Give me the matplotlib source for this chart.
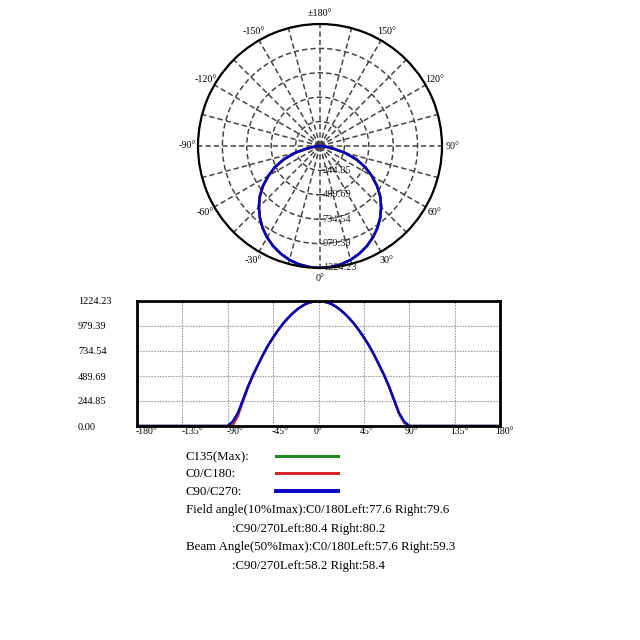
import numpy as np
import matplotlib
matplotlib.use("Agg")
import matplotlib.pyplot as plt
from matplotlib.lines import Line2D

plt.rcParams['font.family'] = ['Liberation Serif', 'DejaVu Serif']

# ---- data ----
angles = [-180, -90, -85, -80, -75, -70, -65, -60, -55, -50, -45, -40, -35, -30, -25, -20, -15, -10, -5,
          0, 5, 10, 15, 20, 25, 30, 35, 40, 45, 50, 55, 60, 65, 70, 75, 80, 85, 90, 180]
c135 = [0, 0, 42, 122, 252, 383, 498, 598, 698, 789, 867, 939, 1004, 1060, 1109, 1150, 1183, 1206, 1219,
        1224.23, 1219, 1206, 1183, 1150, 1109, 1060, 1004, 939, 867, 789, 698, 598, 498, 383, 252, 122, 40, 0, 0]
c0_180 = [0, 0, 10, 95, 238, 375, 492, 594, 695, 787, 866, 938, 1004, 1060, 1109, 1150, 1183, 1206, 1219,
          1224.23, 1219, 1206, 1183, 1150, 1109, 1060, 1004, 939, 867, 789, 698, 600, 498, 380, 245, 118, 30, 0, 0]
c90_270 = [0, 0, 45, 125, 255, 385, 500, 600, 700, 790, 868, 940, 1005, 1061, 1110, 1151, 1183, 1206, 1219,
           1224.23, 1219, 1206, 1183, 1151, 1110, 1061, 1005, 940, 868, 790, 700, 602, 502, 387, 256, 124, 44, 0, 0]
r_ticks = [244.85, 489.69, 734.54, 979.39, 1224.23]
r_labels = ["244.85", "489.69", "734.54", "979.39", "1224.23"]
theta_grid = list(range(0, 360, 15))
theta_labels = {0: "0°", 30: "30°", 60: "60°", 90: "90°", 120: "120°", 150: "150°", 180: "±180°",
                210: "-150°", 240: "-120°", 270: "-90°", 300: "-60°", 330: "-30°"}
x_ticks = [-180, -135, -90, -45, 0, 45, 90, 135, 180]
x_labels = ["-180°", "-135°", "-90°", "-45°", "0°", "45°", "90°", "135°", "180°"]
y_ticks = [0, 244.85, 489.69, 734.54, 979.39, 1224.23]
y_labels = ["0.00", "244.85", "489.69", "734.54", "979.39", "1224.23"]
series_names = ["C135(Max):", "C0/C180:", "C90/C270:"]
series_colors = ["#1e8a1e", "#d62828", "#0000c0"]
info_lines = ["Field angle(10%Imax):C0/180Left:77.6 Right:79.6",
              ":C90/270Left:80.4 Right:80.2",
              "Beam Angle(50%Imax):C0/180Left:57.6 Right:59.3",
              ":C90/270Left:58.2 Right:58.4"]
rmax = 1224.23

fig = plt.figure(figsize=(6.4, 6.4), dpi=100)
fig.patch.set_facecolor('white')

# ---- polar ----
ax = fig.add_axes([198/640, 1 - 268/640, 244/640, 244/640], projection='polar')
ax.set_theta_zero_location('S')
ax.set_theta_direction(1)
ax.set_ylim(0, rmax)
ax.set_thetagrids(theta_grid, [theta_labels.get(t, "") for t in theta_grid], fontsize=7.2)
ax.set_yticks([50] + r_ticks)
ax.set_yticklabels([])
ax.grid(True, color='#454545', linestyle=(0, (3.5, 2)), linewidth=1.1)
ax.spines['polar'].set_color('black')
ax.spines['polar'].set_linewidth(1.6)
ax.tick_params(axis='x', pad=-3)
for r, lab in zip(r_ticks, r_labels):
    ax.annotate(lab, xy=(0, r), xytext=(2, 0), textcoords='offset points',
                ha='left', va='center', fontsize=7.5, color='#222222')
th = np.deg2rad(angles)
series = [c135, c0_180, c90_270]
for vals, col in zip(series, series_colors):
    ax.plot(th, vals, color=col, linewidth=1.8)

# ---- cartesian ----
ax2 = fig.add_axes([137/640, 1 - 426/640, 363/640, 125/640])
for vals, col in zip(series, series_colors):
    ax2.plot(angles, vals, color=col, linewidth=1.7)
ax2.set_xlim(-180, 180)
ax2.set_ylim(0, rmax)
ax2.set_xticks(x_ticks)
ax2.set_xticklabels([])
for t, lab in zip(x_ticks, x_labels):
    dx = -1 if lab.startswith('-') else -4.5
    ax2.annotate(lab, xy=(t, 0), xycoords=('data', 'axes fraction'), xytext=(dx, -1.5),
                 textcoords='offset pixels', ha='left', va='top', fontsize=7, annotation_clip=False)
ax2.set_yticks(y_ticks)
ax2.set_yticklabels(y_labels, fontsize=7.5, ha='left')
ax2.tick_params(axis='y', length=0, pad=42.5)
ax2.tick_params(axis='x', length=0, pad=1)
ax2.grid(True, color='#a0a0a0', linestyle=(0, (1.5, 1)), linewidth=0.8)
for s in ax2.spines.values():
    s.set_linewidth(2)
    s.set_color('black')

# ---- legend text ----
ys = [457, 474, 492]
for name, col, y in zip(series_names, series_colors, ys):
    fig.text(186/640, 1 - y/640, name, fontsize=9.3, va='center', ha='left')
    fig.add_artist(Line2D([276/640, 338/640], [1 - (y - 1)/640, 1 - (y - 1)/640],
                          color=col, linewidth=2.2 if col != "#0000c0" else 2.8))
info_x = [186, 232, 186, 232]
info_y = [510, 529, 547, 566]
for txt, x, y in zip(info_lines, info_x, info_y):
    fig.text(x/640, 1 - y/640, txt, fontsize=9.3, va='center', ha='left')

fig.savefig("out.png", dpi=100)
